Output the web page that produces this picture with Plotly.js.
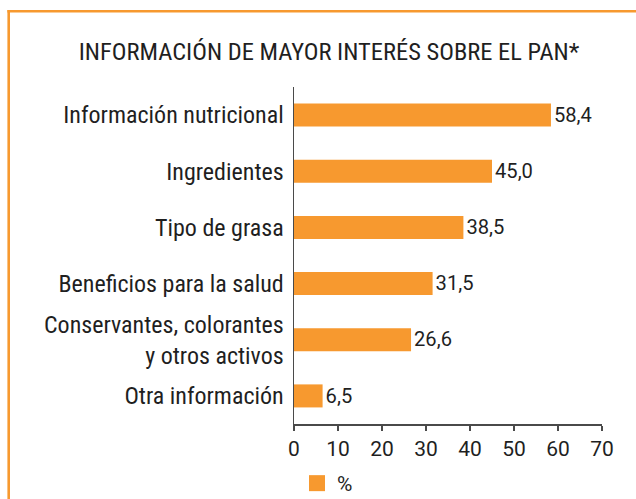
<!DOCTYPE html>
<html>
<head>
<meta charset="utf-8">
<script src="https://cdn.plot.ly/plotly-3.0.1.min.js"></script>
<style>
  html, body { margin: 0; padding: 0; background: #fff; }
  #chart { width: 636px; height: 499px; }
</style>
</head>
<body>
<div id="chart"></div>
<script>
const categories = [
  "Información nutricional",
  "Ingredientes",
  "Tipo de grasa",
  "Beneficios para la salud",
  "Conservantes, colorantes<br>y otros activos",
  "Otra información"
];
const values = [58.4, 45.0, 38.5, 31.5, 26.6, 6.5];
const xTicks = [0, 10, 20, 30, 40, 50, 60, 70];
const seriesName = "%";
const titleText = "INFORMACIÓN DE MAYOR INTERÉS SOBRE EL PAN*";

const ORANGE = "#f7992f";
const TEXT = "#1f1f1f";
const AXIS = "#4a4a4a";
const FONT = "'Roboto Condensed', 'DejaVu Sans Condensed', sans-serif";
const NUMFONT = "Roboto, 'DejaVu Sans', sans-serif";

const L = 294, R = 34, T = 87, B = 75;
const W = 636 - L - R, H = 499 - T - B;
const px = x => (x - L) / W;
const py = y => (499 - B - y) / H;

const barTrace = {
  type: "bar",
  orientation: "h",
  y: categories,
  x: values,
  name: seriesName,
  showlegend: false,
  marker: { color: ORANGE },
  texttemplate: "%{x:.1f}",
  textposition: "outside",
  cliponaxis: false,
  textfont: { family: NUMFONT, size: 21, color: TEXT },
  hoverinfo: "none"
};

// legend entry (square swatch like the reference)
const legendTrace = {
  type: "scatter",
  mode: "markers",
  x: [null],
  y: [null],
  name: seriesName,
  marker: { symbol: "square", size: 16, color: ORANGE },
  showlegend: true,
  hoverinfo: "none"
};

const layout = {
  width: 636,
  height: 499,
  margin: { l: L, r: R, t: T, b: B, pad: 0 },
  paper_bgcolor: "#fff",
  plot_bgcolor: "#fff",
  separators: ",.",
  font: { family: FONT, size: 22, color: TEXT },
  title: {
    text: titleText,
    font: { family: FONT, size: 24.5, color: TEXT },
    x: 329 / 636, xref: "container", xanchor: "center",
    y: 1 - 51 / 499, yref: "container", yanchor: "middle"
  },
  bargap: 0.59,
  showlegend: true,
  legend: {
    orientation: "h",
    xref: "container", yref: "container",
    x: 297 / 636, y: 1 - 463 / 499, xanchor: "left", yanchor: "top",
    font: { family: NUMFONT, size: 21, color: TEXT },
    bgcolor: "rgba(0,0,0,0)",
    borderwidth: 0
  },
  xaxis: {
    range: [0, 70],
    tickvals: xTicks,
    ticktext: xTicks.map(String),
    showgrid: false,
    zeroline: false,
    showline: true,
    linecolor: AXIS,
    linewidth: 1.5,
    ticks: "outside",
    ticklen: 5,
    tickwidth: 1.2,
    tickcolor: AXIS,
    tickfont: { family: NUMFONT, size: 21, color: TEXT },
    fixedrange: true
  },
  yaxis: {
    autorange: "reversed",
    showgrid: false,
    zeroline: false,
    showline: true,
    linecolor: AXIS,
    linewidth: 1.5,
    ticks: "",
    ticklabelstandoff: 4,
    tickfont: { family: FONT, size: 24, color: TEXT },
    fixedrange: true
  },
  shapes: [
    { type: "line", xref: "paper", yref: "paper",
      x0: px(8.7), x1: px(8.7), y0: py(10), y1: py(499),
      line: { color: ORANGE, width: 2.6 } },
    { type: "line", xref: "paper", yref: "paper",
      x0: px(7.4), x1: px(636), y0: py(11.3), y1: py(11.3),
      line: { color: ORANGE, width: 2.6 } }
  ]
};

Plotly.newPlot("chart", [barTrace, legendTrace], layout, { displayModeBar: false, staticPlot: true });
</script>
</body>
</html>
